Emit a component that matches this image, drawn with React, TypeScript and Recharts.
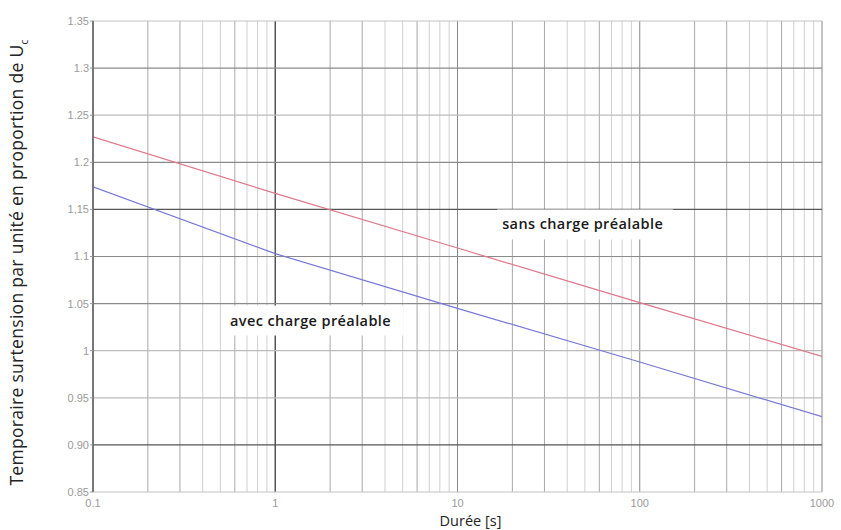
import React from "react";
import {
  LineChart,
  Line,
  XAxis,
  YAxis,
  ReferenceLine,
  ReferenceDot,
  Label,
} from "recharts";

// durée [s] and the two curves
const durations = [0.1, 1, 10, 100, 1000];
const sansCharge = [1.227, 1.167, 1.109, 1.051, 0.994];
const avecCharge = [1.174, 1.103, 1.045, 0.988, 0.93];

const xTicks = [0.1, 1, 10, 100, 1000];
const xTickLabels = ["0.1", "1", "10", "100", "1000"];
const yTicks = [0.85, 0.9, 0.95, 1, 1.05, 1.1, 1.15, 1.2, 1.25, 1.3, 1.35];
const yTickLabels = ["0.85", "0.90", "0.95", "1", "1.05", "1.1", "1,15", "1.2", "1.25", "1.3", "1.35"];
const yGridShade = ["#c4c4c4", "#555", "#bbb", "#bbb", "#8a8a8a", "#8a8a8a", "#555", "#8a8a8a", "#bbb", "#8a8a8a", "#c4c4c4"];
const minorMultipliers = [2, 3, 4, 5, 6, 7, 8, 9];
const decades = [0.1, 1, 10, 100];

const data = durations.map((d, i) => ({ d, sans: sansCharge[i], avec: avecCharge[i] }));

const minorX = decades.flatMap((dec) => minorMultipliers.map((m) => +(dec * m).toPrecision(3)));

function Annotation({ cx, cy, text, w }: any) {
  return (
    <g>
      <rect x={cx} y={cy - 15} width={w} height={30} fill="#fff" />
      <text
        x={cx + 5}
        y={cy + 5}
        fontFamily="'Open Sans', sans-serif"
        fontWeight={600}
        fontSize={14.5}
        letterSpacing={0.4}
        fill="#1a1a1a"
      >
        {text}
      </text>
    </g>
  );
}

function YTitle({ viewBox }: any) {
  const cx = 23;
  const cy = viewBox.y + viewBox.height / 2 + 6;
  return (
    <text
      transform={`translate(${cx},${cy}) rotate(-90)`}
      textAnchor="middle"
      fontFamily="'Open Sans', sans-serif"
      fontSize={17.5}
      letterSpacing={0.3}
      fill="#222"
    >
      Temporaire surtension par unité en proportion de U
      <tspan fontSize={10} dy={5}>c</tspan>
    </text>
  );
}

function XTitle({ viewBox }: any) {
  return (
    <text
      x={viewBox.x + viewBox.width / 2 + 13}
      y={526}
      textAnchor="middle"
      fontFamily="'Open Sans', sans-serif"
      fontSize={14.5}
      fill="#222"
    >
      Durée [s]
    </text>
  );
}

export default function App() {
  const tickStyle = { fill: "#9a9a9a", fontSize: 11, fontFamily: "'Liberation Sans', Arial, sans-serif" };
  return (
    <div style={{ position: "absolute", left: 0, top: 0, width: 841, height: 530, background: "#fff" }}>
      <LineChart width={841} height={530} data={data} margin={{ top: 21, right: 19, left: 0, bottom: 0 }}>
        <XAxis
          dataKey="d"
          type="number"
          scale="log"
          domain={[0.1, 1000]}
          ticks={xTicks}
          tickFormatter={(v: number) => xTickLabels[xTicks.indexOf(v)] ?? String(v)}
          axisLine={false}
          tickLine={false}
          tick={tickStyle}
          tickMargin={1}
          height={38}
          allowDataOverflow
        >
          <Label content={<XTitle />} />
        </XAxis>
        <YAxis
          type="number"
          domain={[0.85, 1.35]}
          ticks={yTicks}
          tickFormatter={(v: number) => yTickLabels[yTicks.findIndex((t) => Math.abs(t - v) < 1e-6)] ?? String(v)}
          width={93}
          axisLine={{ stroke: "#666", strokeWidth: 1.5 }}
          tickLine={{ stroke: "#999" }}
          tickSize={3}
          tickMargin={1}
          tick={tickStyle}
          interval={0}
          allowDataOverflow
        >
          <Label content={<YTitle />} />
        </YAxis>

        {minorX.map((v, i) => (
          <ReferenceLine
            key={"mx" + v}
            x={v}
            stroke={[0, 1, 4].includes(i % 8) ? "#a8a8a8" : "#d0d0d0"}
            strokeWidth={1}
          />
        ))}
        {xTicks.map((v, i) => (
          <ReferenceLine key={"x" + v} x={v} stroke={i === 0 || i === 1 ? "#555" : "#888"} strokeWidth={i === 1 ? 1.5 : 1} />
        ))}
        {yTicks.map((v, i) => (
          <ReferenceLine key={"y" + v} y={v} stroke={yGridShade[i]} strokeWidth={1.2} />
        ))}

        <Line
          dataKey="sans"
          type="linear"
          stroke="#e0788a"
          strokeWidth={1.2}
          dot={false}
          isAnimationActive={false}
        />
        <Line
          dataKey="avec"
          type="linear"
          stroke="#7878d8"
          strokeWidth={1.2}
          dot={false}
          isAnimationActive={false}
        />

        <ReferenceDot
          x={16.5}
          y={1.134}
          r={0}
          shape={(p: any) => <Annotation {...p} text="sans charge préalable" w={176} />}
        />
        <ReferenceDot
          x={0.53}
          y={1.032}
          r={0}
          shape={(p: any) => <Annotation {...p} text="avec charge préalable" w={178} />}
        />
      </LineChart>
    </div>
  );
}
